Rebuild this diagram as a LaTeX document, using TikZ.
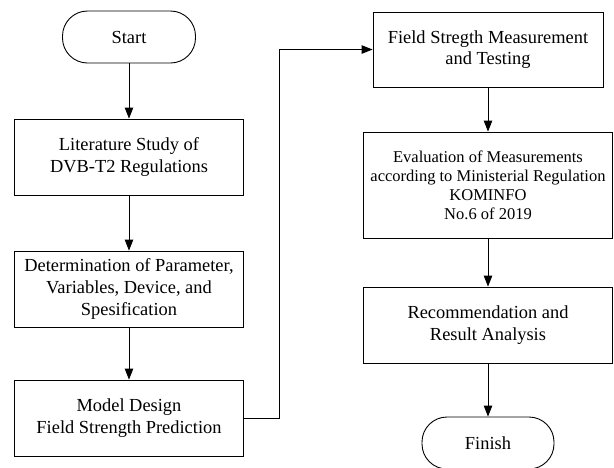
\documentclass[tikz,border=0pt]{standalone}
\usepackage{fontspec}
\setmainfont{Liberation Serif}
\usetikzlibrary{arrows.meta}
\begin{document}
\begin{tikzpicture}[x=1pt,y=-1pt,
  every node/.style={line width=0.9pt},
  box/.style={draw, align=center, inner sep=2pt, minimum width=229pt, minimum height=76pt,
    font=\fontsize{18.4}{21.7}\selectfont},
  term/.style={draw, rounded corners=25pt, minimum height=52pt, inner sep=2pt,
    font=\fontsize{18.4}{21.7}\selectfont},
  arr/.style={-{Triangle[length=11pt,width=8.5pt]}, line width=0.9pt}]
\useasboundingbox (0,0) rectangle (614,467);
% left column
\node[term, minimum width=133pt] (start) at (129,37) {Start};
\node[box] (lit) at (129,157) {Literature Study of\\DVB-T2 Regulations};
\node[box] (det) at (129,289) {Determination of Parameter,\\Variables, Device, and\\Spesification};
\node[box] (model) at (129,418) {Model Design\\Field Strength Prediction};
% right column
\node[box, minimum width=230pt, minimum height=75pt] (field) at (488,49.5) {Field Stregth Measurement\\and Testing};
\node[box, minimum width=249pt, minimum height=106pt, font=\fontsize{16.5}{19}\selectfont] (eval) at (488,185) {Evaluation of Measurements\\according to Ministerial Regulation\\KOMINFO\\No.6 of 2019};
\node[box, minimum width=249pt] (rec) at (488,325) {Recommendation and\\Result Analysis};
\node[term, minimum width=132pt] (finish) at (488,443) {Finish};
% connectors
\draw[arr] (start) -- (lit);
\draw[arr] (lit) -- (det);
\draw[arr] (det) -- (model);
\coordinate (bend) at (279,418);
\draw[arr] (model.east) -- (bend) |- (field.west);
\draw[arr] (field) -- (eval);
\draw[arr] (eval) -- (rec);
\draw[arr] (rec) -- (finish);
\end{tikzpicture}
\end{document}
